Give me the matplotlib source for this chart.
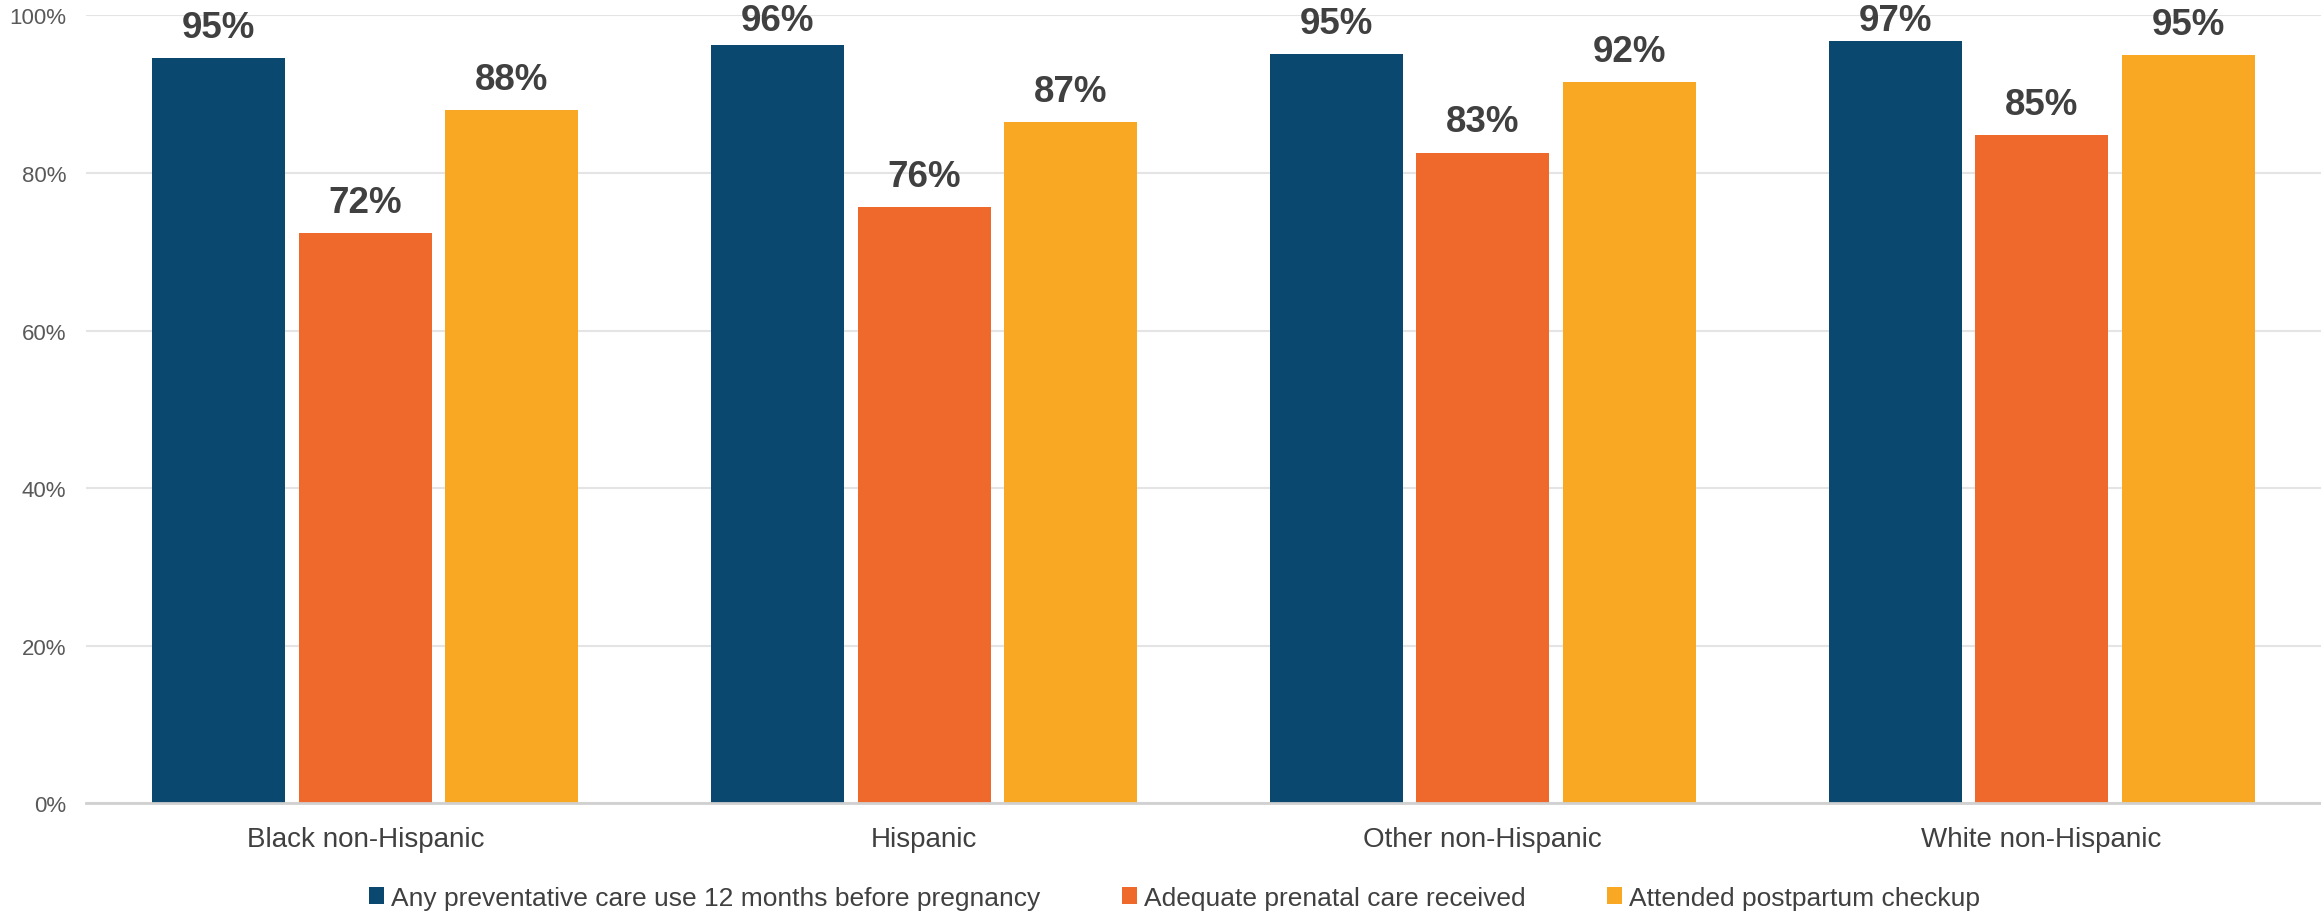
import numpy as np
import matplotlib
matplotlib.use("Agg")
import matplotlib.pyplot as plt
from matplotlib.ticker import PercentFormatter

groups = ["Black non-Hispanic", "Hispanic", "Other non-Hispanic", "White non-Hispanic"]
series = [
    "Any preventative care use 12 months before pregnancy",
    "Adequate prenatal care received",
    "Attended postpartum checkup",
]
preventive = [94.6, 96.3, 95.1, 96.8]
prenatal = [72.4, 75.7, 82.6, 84.8]
postpartum = [88.0, 86.5, 91.5, 95.0]
labels = [
    ["95%", "96%", "95%", "97%"],
    ["72%", "76%", "83%", "85%"],
    ["88%", "87%", "92%", "95%"],
]
colors = ["#0B4870", "#F0692C", "#F8A823"]

plt.rcParams["font.family"] = ["Liberation Sans", "DejaVu Sans"]

fig = plt.figure(figsize=(23.21, 9.12), dpi=100)
ax = fig.add_axes([0.037, 0.118, 0.963, 0.864])

x = np.arange(len(groups))
width = 0.238
step = 0.262
for i, (vals, col) in enumerate(zip([preventive, prenatal, postpartum], colors)):
    bars = ax.bar(x + (i - 1) * step, vals, width, color=col, label=series[i], zorder=3)
    for b, lab in zip(bars, labels[i]):
        # labels near the top are pushed down so they stay inside the chart
        y = min(b.get_height() + 2.7, 98.1)
        ax.text(b.get_x() + b.get_width() / 2, y, lab,
                ha="center", va="baseline", fontsize=26.5, fontweight="bold",
                color="#404040", zorder=4)

ax.set_xlim(-0.5, len(groups) - 0.5)
ax.set_ylim(0, 100)
ax.set_yticks(np.arange(0, 101, 20))
ax.yaxis.set_major_formatter(PercentFormatter(decimals=0))
ax.set_xticks(x)
ax.set_xticklabels(groups)
ax.tick_params(axis="y", length=0, labelsize=16, labelcolor="#595959", pad=14)
ax.tick_params(axis="x", length=0, labelsize=20, labelcolor="#404040", pad=16)
ax.grid(axis="y", color="#e4e4e4", linewidth=1.5, zorder=0)
for s in ["top", "right", "left"]:
    ax.spines[s].set_visible(False)
ax.spines["bottom"].set_color("#d0d0d0")
ax.spines["bottom"].set_linewidth(2)
ax.spines["bottom"].set_zorder(5)

ax.legend(loc="center", bbox_to_anchor=(0.487, -0.12), ncol=3, frameon=False,
          fontsize=19, labelcolor="#404040", handlelength=0.58, handleheight=0.58,
          handletextpad=0.25, columnspacing=3.1)

fig.savefig("out.png", dpi=100)
